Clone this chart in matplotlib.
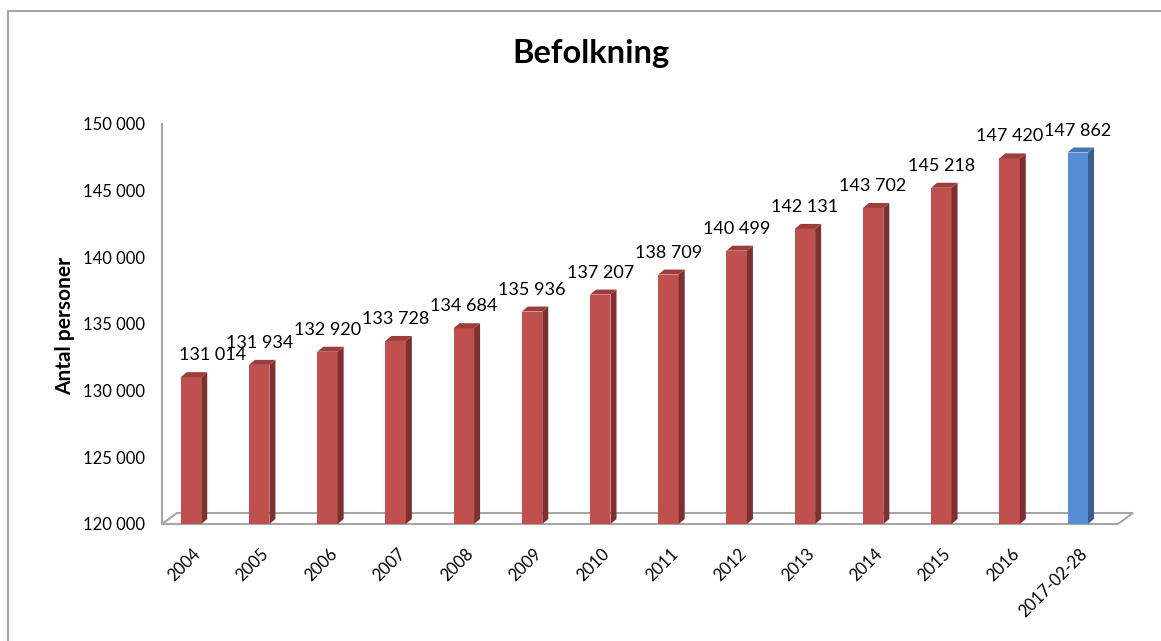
import matplotlib
matplotlib.use("Agg")
import matplotlib.pyplot as plt
from matplotlib.patches import Polygon, Rectangle
import numpy as np

plt.rcParams['font.family'] = ['Lato', 'DejaVu Sans']

categories = ["2004", "2005", "2006", "2007", "2008", "2009", "2010", "2011",
              "2012", "2013", "2014", "2015", "2016", "2017-02-28"]
values = [131014, 131934, 132920, 133728, 134684, 135936, 137207, 138709,
          140499, 142131, 143702, 145218, 147420, 147862]
y_ticks = [120000, 125000, 130000, 135000, 140000, 145000, 150000]
title = "Befolkning"
y_label = "Antal personer"

# style
red_front, red_top, red_side = "#C0504D", "#9C3E3B", "#7E302E"
blue_front, blue_top, blue_side = "#558ED5", "#4577B5", "#385F90"
label_dx_px = [22] + [0] * (len(values) - 1)

W, H = 1161, 641
fig = plt.figure(figsize=(W / 100, H / 100), dpi=100)
ax_l, ax_r, ax_b, ax_t = 162, 1118, 524, 124
ax = fig.add_axes([ax_l / W, 1 - ax_b / H, (ax_r - ax_l) / W, (ax_b - ax_t) / H])

x = np.arange(len(values))
ymin, ymax = y_ticks[0], y_ticks[-1]
xlim = (-0.425, len(values) - 1 + 0.59)
ax.set_xlim(*xlim)
ax.set_ylim(ymin, ymax)

px_x = (ax_r - ax_l) / (xlim[1] - xlim[0])
px_y = (ax_b - ax_t) / (ymax - ymin)

# floor
fdx, fdy = 15 / px_x, 11 / px_y
floor = Polygon([(xlim[0], ymin), (xlim[1], ymin), (xlim[1] + fdx, ymin + fdy),
                 (xlim[0] + fdx, ymin + fdy)], closed=True, facecolor="white",
                edgecolor="#A6A6A6", linewidth=1.5, clip_on=False, zorder=1)
ax.add_patch(floor)

width = 0.3
bdx, bdy = 6 / px_x, 5 / px_y
fronts = [red_front] * (len(values) - 1) + [blue_front]
tops = [red_top] * (len(values) - 1) + [blue_top]
sides = [red_side] * (len(values) - 1) + [blue_side]
heights = [v - ymin for v in values]
ax.bar(x, heights, bottom=ymin, width=width, color=fronts, zorder=3)
for xi, v, tc, sc in zip(x, values, tops, sides):
    r = xi + width / 2
    l = xi - width / 2
    ax.add_patch(Polygon([(r, ymin), (r + bdx, ymin + bdy), (r + bdx, v + bdy), (r, v)],
                         closed=True, facecolor=sc, edgecolor="none", zorder=3, clip_on=False))
    ax.add_patch(Polygon([(l, v), (r, v), (r + bdx, v + bdy), (l + bdx, v + bdy)],
                         closed=True, facecolor=tc, edgecolor="none", zorder=3, clip_on=False))

def fmt(v):
    return f"{v:,}".replace(",", " ")

for xi, v, dxp in zip(x, values, label_dx_px):
    ax.annotate(fmt(v), (xi, v), xytext=(dxp * 0.72, 22 * 0.72), textcoords="offset points",
                ha="center", va="center", fontsize=13, color="black", zorder=5,
                annotation_clip=False)

ax.set_yticks(y_ticks)
ax.set_yticklabels([fmt(t) for t in y_ticks], fontsize=12)
ax.set_xticks(x)
ax.set_xticklabels([])
for xi, c in zip(x, categories):
    ax.annotate(c, (xi, ymin), xytext=(7 * 0.72, -27 * 0.72), textcoords="offset points",
                rotation=45, rotation_mode="anchor", ha="right", va="center",
                fontsize=12, annotation_clip=False)
ax.tick_params(axis="both", length=0)
ax.tick_params(axis="y", pad=12)

for s in ["top", "right", "bottom"]:
    ax.spines[s].set_visible(False)
ax.spines["left"].set_color("#A6A6A6")
ax.spines["left"].set_linewidth(1.5)
ax.patch.set_alpha(0)

fig.text(591 / W, 1 - 54 / H, title, ha="center", va="center", fontsize=23.5, fontweight="bold")
fig.text(65 / W, 1 - 326 / H, y_label, ha="center", va="center", rotation=90,
         fontsize=15, fontweight="bold")

fig.patches.append(Rectangle((8 / W, -0.2), 1.5, 1.2 - 11 / H, transform=fig.transFigure,
                             fill=False, edgecolor="#A6A6A6", linewidth=1.5))

fig.savefig("out.png", dpi=100)
